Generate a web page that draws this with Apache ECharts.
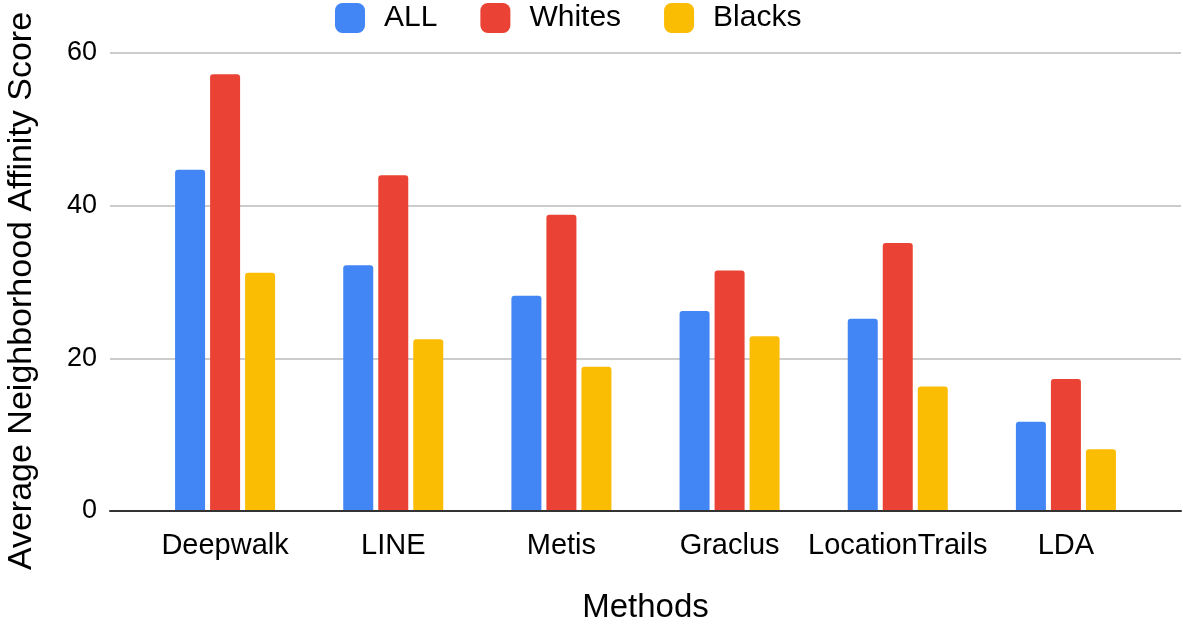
<!DOCTYPE html>
<html>
<head>
<meta charset="utf-8">
<script src="https://cdn.jsdelivr.net/npm/echarts@6/dist/echarts.min.js"></script>
<style>html,body{margin:0;padding:0;background:#fff}#c{width:1183px;height:624px}</style>
</head>
<body>
<div id="c"></div>
<script>
const categories = ['Deepwalk', 'LINE', 'Metis', 'Graclus', 'LocationTrails', 'LDA'];
const seriesNames = ['ALL', 'Whites', 'Blacks'];
const allValues = [44.7, 32.2, 28.2, 26.2, 25.2, 11.7];
const whitesValues = [57.2, 44.0, 38.8, 31.5, 35.1, 17.3];
const blacksValues = [31.2, 22.5, 18.9, 22.9, 16.3, 8.1];
const yTicks = [0, 20, 40, 60];

const colors = ['#4285F4', '#EA4335', '#FBBC04'];
const font = 'Liberation Sans, Arial, sans-serif';
const chart = echarts.init(document.getElementById('c'), null, {renderer: 'canvas'});
const dataSets = [allValues, whitesValues, blacksValues];
chart.setOption({
  animation: false,
  color: colors,
  textStyle: {fontFamily: font},
  legend: {
    top: 3, left: 335, padding: 0,
    itemWidth: 30, itemHeight: 30, itemGap: 43,
    icon: 'roundRect',
    textStyle: {fontSize: 30, color: '#000', fontFamily: font, padding: [0, 0, 0, 14]},
    data: seriesNames
  },
  grid: [
    {left: 110, right: 2, top: 53, bottom: 113, outerBoundsMode: 'none', containLabel: false},
    {left: 141, right: 33, top: 53, bottom: 113, outerBoundsMode: 'none', containLabel: false}
  ],
  xAxis: [
    {type: 'category', gridIndex: 0, data: categories, z: 5,
     axisLine: {show: true, lineStyle: {color: '#333', width: 2}},
     axisTick: {show: false}, axisLabel: {show: false}, splitLine: {show: false}},
    {type: 'category', gridIndex: 1, data: categories,
     axisLine: {show: false}, axisTick: {show: false},
     axisLabel: {fontSize: 29, color: '#000', margin: 20, fontFamily: font, interval: 0},
     name: 'Methods', nameLocation: 'middle', nameGap: 80,
     nameTextStyle: {fontSize: 33, color: '#000', fontFamily: font}}
  ],
  yAxis: [
    {type: 'value', gridIndex: 0, min: yTicks[0], max: yTicks[yTicks.length - 1], interval: 20,
     axisLine: {show: false}, axisTick: {show: false},
     axisLabel: {fontSize: 27, color: '#000', margin: 13, fontFamily: font},
     splitLine: {lineStyle: {color: '#cccccc', width: 2}},
     name: 'Average Neighborhood Affinity Score', nameLocation: 'middle', nameGap: 71,
     nameTextStyle: {fontSize: 34, color: '#000', fontFamily: font, padding: [0, 18, 0, 0]}},
    {type: 'value', gridIndex: 1, min: yTicks[0], max: yTicks[yTicks.length - 1], interval: 20,
     show: false, splitLine: {show: false}}
  ],
  series: seriesNames.map((n, i) => ({
    name: n, type: 'bar', xAxisIndex: 1, yAxisIndex: 1,
    data: dataSets[i], barWidth: 30, barGap: '16.7%',
    itemStyle: {color: colors[i], borderRadius: [3, 3, 0, 0]}
  }))
});
</script>
</body>
</html>
